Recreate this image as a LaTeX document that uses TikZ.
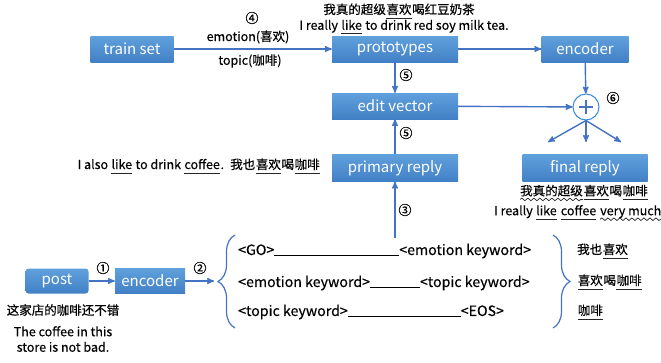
\documentclass[tikz,border=0pt]{standalone}
\usepackage{fontspec}
\setmainfont[FakeBold=0.35]{Noto Sans CJK SC}
\setsansfont[FakeBold=0.35]{Noto Sans CJK SC}
\newfontfamily\boxfont{Noto Sans CJK SC}
\usetikzlibrary{arrows, positioning, decorations.pathreplacing, decorations.pathmorphing}
\definecolor{boxtop}{RGB}{96,160,220}
\definecolor{boxbottom}{RGB}{66,128,198}
\definecolor{linkblue}{RGB}{68,114,196}
\definecolor{ringblue}{RGB}{50,140,215}
\newcommand{\ulword}[1]{\tikz[baseline=(w.base)]{\node[inner sep=0pt] (w) {#1}; \draw[line width=0.9pt, black!85] ([yshift=-4pt]w.base west) -- ([yshift=-4pt]w.base east);}}
\newcommand{\wvword}[1]{\tikz[baseline=(w.base)]{\node[inner sep=0pt] (w) {#1}; \draw[line width=0.7pt, black!85, decorate, decoration={snake, amplitude=1.3pt, segment length=6pt}] ([yshift=-4pt]w.base west) -- ([yshift=-4pt]w.base east);}}
\tikzset{
>=stealth', % small bold arrow heads
box/.style={top color=boxtop, bottom color=boxbottom, draw=none, text=white, inner sep=0pt, minimum height=26pt, font=\boxfont\fontsize{15}{15}\selectfont}, % the blue blocks
link/.style={->, draw=linkblue, line width=1.4pt}, % connectors
lbl/.style={font=\fontsize{12.5}{15.5}\selectfont, inner sep=1pt}, % small texts
num/.style={font=\fontsize{13}{13}\selectfont, inner sep=0pt}, % step numbers
slot/.style={font=\fontsize{14.2}{14.2}\selectfont, anchor=west, inner sep=0pt}, % template rows
curly/.style={draw=linkblue, line width=1.2pt, decorate, decoration={brace, amplitude=17pt}}
}
\begin{document}
\begin{tikzpicture}[x=1pt, y=-1pt]
  \useasboundingbox (0,0) rectangle (661,362);

  % top row
  \node[box, minimum width=83pt] (train) at (132,49) {train set};
  \node[box, minimum width=126pt] (proto) at (395,49) {prototypes};
  \node[box, minimum width=87pt] (enc1) at (585,49) {encoder};
  \node[box, minimum width=126pt] (edit) at (395,106) {edit vector};
  \node[circle, draw=ringblue, fill=white, line width=1pt, minimum size=26pt, inner sep=0pt,
    path picture={\draw[linkblue, line width=2.6pt] ([xshift=-7pt]path picture bounding box.center) -- ([xshift=7pt]path picture bounding box.center)
      ([yshift=-7pt]path picture bounding box.center) -- ([yshift=7pt]path picture bounding box.center);}] (plus) at (586,107) {};
  \node[box, minimum width=126pt, minimum height=27pt] (primary) at (395,168) {primary reply};
  \node[box, minimum width=125pt, minimum height=27pt] (final) at (585,168) {final reply};

  % bottom row
  \node[box, rounded corners=3pt, minimum width=63pt, minimum height=25pt] (post) at (57,281) {post};
  \node[box, minimum width=70pt, minimum height=25pt] (enc2) at (150,281) {encoder};

  % labels
  \node[num] (n4) at (252,18) {④};
  \node[lbl] (emo) at (248,37) {emotion(喜欢)};
  \node[lbl] (top) at (250,61) {topic(咖啡)};
  \node[lbl] (proto1) at (399,11) {我真的超级\ulword{喜欢}喝红豆奶茶};
  \node[lbl] (proto2) at (404,27) {I really \ulword{like} to drink red soy milk tea.};
  \node[num] (n5a) at (406,75) {⑤};
  \node[num] (n5b) at (406,133) {⑤};
  \node[num] (n6) at (613,98) {⑥};
  \node[num] (n3) at (405,210) {③};
  \node[num] (n1) at (103,268) {①};
  \node[num] (n2) at (200,268) {②};
  \node[lbl] (prim) at (199,166) {I also \ulword{like} to drink \ulword{coffee}.\enspace 我也\ulword{喜欢}喝\ulword{咖啡}};
  \node[lbl] (fin1) at (584,193) {\wvword{我真的超级}\ulword{喜欢}喝\ulword{咖啡}};
  \node[lbl] (fin2) at (578,213) {I really \ulword{like} \ulword{coffee} \wvword{very much}};
  \node[lbl] (post1) at (63,310) {这家店的咖啡还不错};
  \node[lbl, align=center] (post2) at (63,339) {The coffee in this\\store is not bad.};

  % template rows
  \node[slot] (row1) at (238,251) {<GO>\rule[-1pt]{125pt}{0.7pt}<emotion keyword>};
  \node[slot] (row2) at (238,283) {<emotion keyword>\rule[-1pt]{50pt}{0.7pt}<topic keyword>};
  \node[slot] (row3) at (238,312) {<topic keyword>\rule[-1pt]{113pt}{0.7pt}<EOS>};
  \node[lbl, anchor=west] (kw1) at (576,251) {我也\ulword{喜欢}};
  \node[lbl, anchor=west] (kw2) at (576,282) {\ulword{喜欢}喝\ulword{咖啡}};
  \node[lbl, anchor=west] (kw3) at (576,312) {\ulword{咖啡}};

  % braces
  \draw[curly] (235,328) -- (235,235);
  \draw[curly] (553,235) -- (553,328);
  \coordinate (ltip) at (214,281);
  \coordinate (rise) at (395,238);
  \coordinate (out1) at (548,142);
  \coordinate (out2) at (586,142);
  \coordinate (out3) at (621,142);

  % connectors
  \draw[link] (train) -- (proto);
  \draw[link] (proto) -- (enc1);
  \draw[link] (proto) -- (edit);
  \draw[link] (enc1) -- (plus);
  \draw[link] (edit) -- (plus);
  \draw[link] (primary) -- (edit);
  \draw[link] (rise) -- (primary);
  \draw[link] (post) -- (enc2);
  \draw[link] (enc2) -- (ltip);
  \draw[link] (plus.south) -- (out1);
  \draw[link] (plus.south) -- (out2);
  \draw[link] (plus.south) -- (out3);
\end{tikzpicture}
\end{document}
